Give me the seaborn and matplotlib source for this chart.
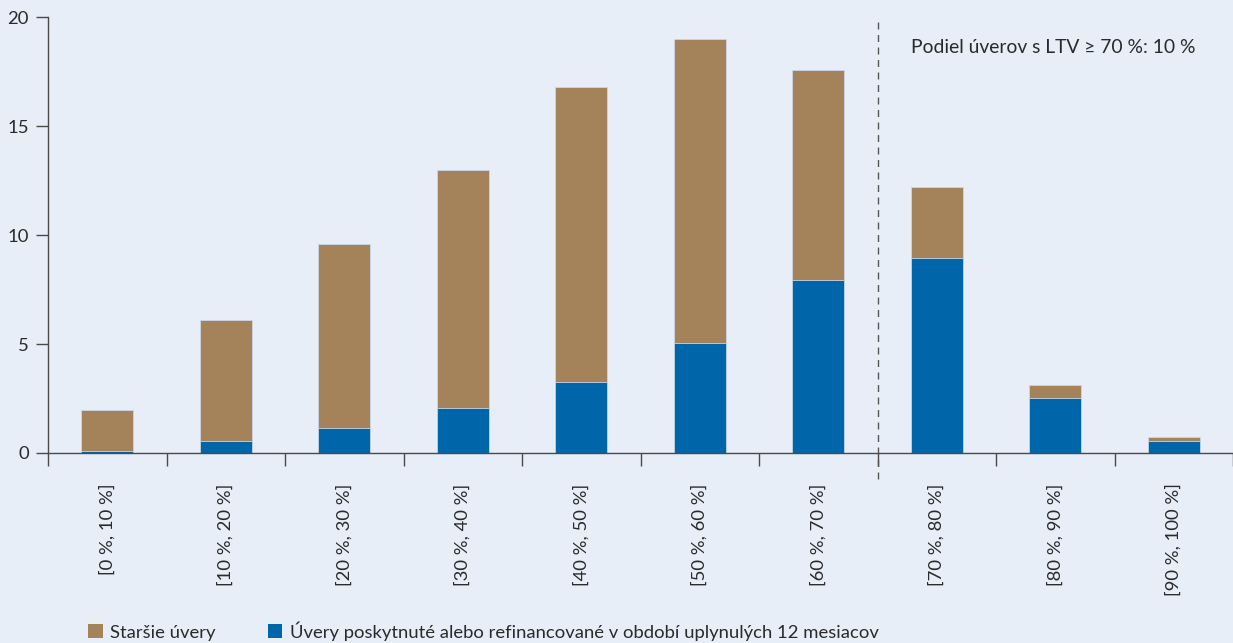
import seaborn as sns
import pandas as pd
import numpy as np
import matplotlib.pyplot as plt
from matplotlib.patches import Patch

# categories and values (percent of loans)
categories = ['[0 %, 10 %]', '[10 %, 20 %]', '[20 %, 30 %]', '[30 %, 40 %]', '[40 %, 50 %]',
              '[50 %, 60 %]', '[60 %, 70 %]', '[70 %, 80 %]', '[80 %, 90 %]', '[90 %, 100 %]']
total = [1.97, 6.1, 9.6, 13.0, 16.8, 19.0, 17.55, 12.2, 3.1, 0.72]
new_loans = [0.1, 0.55, 1.15, 2.05, 3.25, 5.05, 7.95, 8.95, 2.5, 0.55]

bg = '#E7EEF8'
brown = '#A5835A'
blue = '#0066AA'
axcol = '#4a4a4a'
txt = '#2a2a2a'

df = pd.DataFrame({'cat': categories, 'total': total, 'new': new_loans})

plt.rcParams['font.family'] = ['Lato', 'DejaVu Sans']
fig = plt.figure(figsize=(12.33, 6.43), dpi=100, facecolor=bg)
ax = fig.add_axes([0.039, 0.2955, 0.961, 0.678])
ax.set_facecolor(bg)

sns.barplot(data=df, x='cat', y='total', color=brown, saturation=1, width=0.44, ax=ax)
sns.barplot(data=df, x='cat', y='new', color=blue, saturation=1, width=0.44, ax=ax)
for p in ax.patches:
    p.set_edgecolor('#c9d6e8')
    p.set_linewidth(0.6)

ax.set_xlim(-0.5, 9.5)
ax.set_ylim(0, 20)
ax.set_yticks([0, 5, 10, 15, 20])
ax.set_xlabel('')
ax.set_ylabel('')

for s in ['top', 'right']:
    ax.spines[s].set_visible(False)
for s in ['left', 'bottom']:
    ax.spines[s].set_color(axcol)
    ax.spines[s].set_linewidth(1.0)

# x ticks at category boundaries, labels in the middle
ax.set_xticks(np.arange(-0.5, 10, 1))
ax.set_xticklabels([])
ax.set_xticks(np.arange(10), minor=True)
ax.set_xticklabels(categories, minor=True, rotation=90, fontsize=13.3, color=txt)
ax.tick_params(axis='x', which='major', length=9, width=1, color=axcol, direction='out')
ax.tick_params(axis='x', which='minor', length=0, pad=22)
ax.tick_params(axis='y', length=9, width=1, color=axcol, labelsize=13.3, labelcolor=txt, pad=5)

ax.axvline(6.5, ymin=-0.06, ymax=1.0, color='#555555', linestyle=(0, (5, 4)), linewidth=1, clip_on=False)
ax.text(6.78, 18.6, 'Podiel úverov s LTV ≥ 70 %: 10 %',
        fontsize=13.9, color=txt, ha='left', va='center')

handles = [Patch(facecolor=brown, edgecolor='none'), Patch(facecolor=blue, edgecolor='none')]
leg = fig.legend(handles, ['Staršie úvery', 'Úvery poskytnuté alebo refinancované v období uplynulých 12 mesiacov'],
                 loc='lower left', bbox_to_anchor=(0.058, -0.022), ncol=2, frameon=False,
                 fontsize=13.3, handlelength=0.8, handleheight=0.8, columnspacing=2.8, handletextpad=0.4)
for t in leg.get_texts():
    t.set_color(txt)

plt.savefig('out.png', dpi=100, facecolor=bg)
